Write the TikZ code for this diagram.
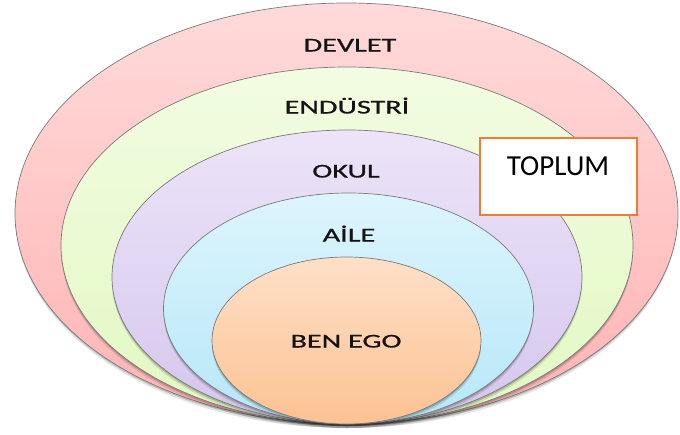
\documentclass[tikz,border=0pt]{standalone}
\usepackage{fontspec}
\setmainfont{Carlito}
\newfontfamily\lblfont[FakeBold=0.7]{Carlito}
\usetikzlibrary{positioning}
\definecolor{ringline}{HTML}{7A7A7A}
\definecolor{pinkT}{HTML}{FFDADA}\definecolor{pinkB}{HTML}{FFB3B3}
\definecolor{greenT}{HTML}{F2FCE2}\definecolor{greenB}{HTML}{E2F8C2}
\definecolor{purpT}{HTML}{ECE4F8}\definecolor{purpB}{HTML}{D5C6EE}
\definecolor{blueT}{HTML}{DDF5FD}\definecolor{blueB}{HTML}{B6E7F8}
\definecolor{oranT}{HTML}{FEE0C8}\definecolor{oranB}{HTML}{FCC292}
\definecolor{textc}{HTML}{141414}
\definecolor{boxline}{HTML}{ED7D31}
\begin{document}
\begin{tikzpicture}[x=1pt,y=-1pt,
  ring/.style={draw=ringline, line width=0.7pt},
  shade1/.style={fill=black, opacity=0.10},
  shade2/.style={fill=black, opacity=0.18},
  lbl/.style={font=\lblfont\fontsize{19.5}{22}\selectfont, text=textc, anchor=base, inner sep=0pt},
  boxnode/.style={draw=boxline, line width=2pt, fill=white, minimum width=157pt, minimum height=77pt, inner sep=0pt}]
\useasboundingbox (0,0) rectangle (680,434);
% DEVLET ring
\fill[shade1] (346.5,217.5) ellipse [x radius=331, y radius=210.5];
\fill[shade2] (346.5,215.5) ellipse [x radius=331, y radius=210.5];
\shade[ring, top color=pinkT, bottom color=pinkB] (346.5,213.5) ellipse [x radius=331.5, y radius=210.5];
% ENDUSTRI ring
\fill[shade1] (347,249.5) ellipse [x radius=286, y radius=178.5];
\fill[shade2] (347,247.5) ellipse [x radius=286, y radius=178.5];
\shade[ring, top color=greenT, bottom color=greenB] (347,245.5) ellipse [x radius=286, y radius=178.5];
% OKUL ring
\fill[shade1] (347,281) ellipse [x radius=235, y radius=147];
\fill[shade2] (347,279) ellipse [x radius=235, y radius=147];
\shade[ring, top color=purpT, bottom color=purpB] (347,277) ellipse [x radius=235, y radius=147];
% AILE ring
\fill[shade1] (348.5,312.5) ellipse [x radius=185, y radius=115.5];
\fill[shade2] (348.5,310.5) ellipse [x radius=185, y radius=115.5];
\shade[ring, top color=blueT, bottom color=blueB] (348.5,308.5) ellipse [x radius=185, y radius=115.5];
% BEN EGO ring
\fill[shade1] (346.5,344.5) ellipse [x radius=134.5, y radius=83.5];
\fill[shade2] (346.5,342.5) ellipse [x radius=134.5, y radius=83.5];
\shade[ring, top color=oranT, bottom color=oranB] (346.5,340.5) ellipse [x radius=134.5, y radius=83.5];
% labels
\node[lbl] (devlet) at (350,51.5) {\scalebox{1.55}[1]{DEVLET}};
\node[lbl] (endustri) at (347,113.5) {\scalebox{1.55}[1]{ENDÜSTRİ}};
\node[lbl] (okul) at (346,177.5) {\scalebox{1.55}[1]{OKUL}};
\node[lbl] (aile) at (349,241.5) {\scalebox{1.55}[1]{AİLE}};
\node[lbl] (benego) at (346,347.5) {\scalebox{1.55}[1]{BEN EGO}};
% TOPLUM box
\node[boxnode] (toplumbox) at (558.5,176.5) {};
\node[font=\fontsize{29}{32}\selectfont, text=black, anchor=base, inner sep=0pt] (toplum) at (558,175.5) {TOPLUM};
\end{tikzpicture}
\end{document}
